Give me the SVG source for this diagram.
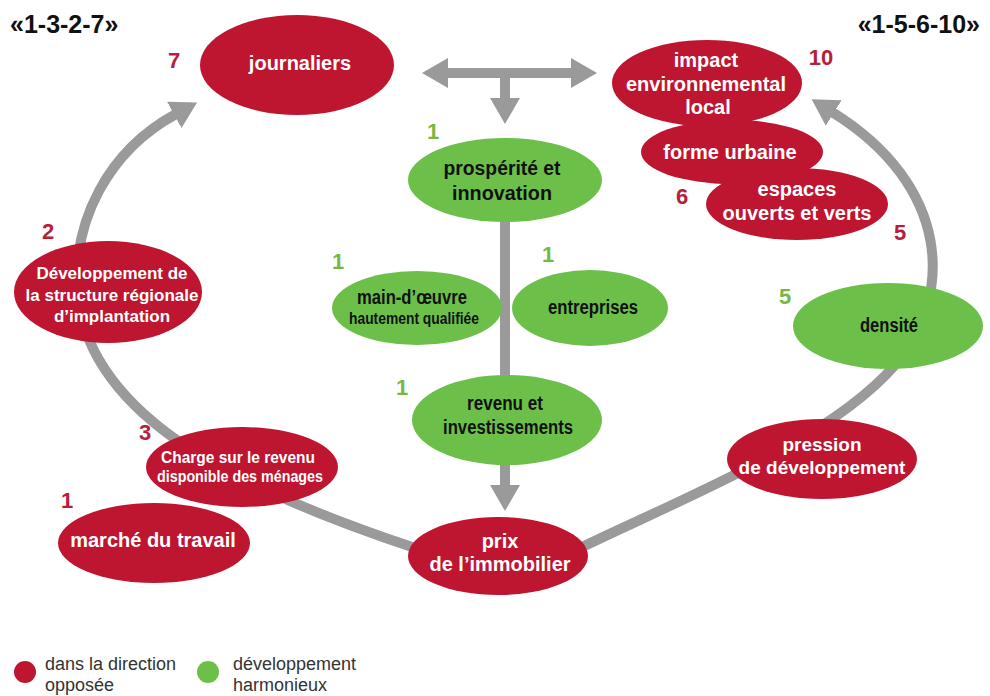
<svg xmlns="http://www.w3.org/2000/svg" width="990" height="696" viewBox="0 0 990 696">
<style>
.red{fill:#be1530}
.grn{fill:#6cc04a}
.wt{fill:#fff;font-family:"Liberation Sans",Arial,sans-serif;font-weight:bold;text-anchor:middle}
.bk{fill:#111;font-family:"Liberation Sans",Arial,sans-serif;font-weight:bold;text-anchor:middle}
.nr{fill:#b5203a;font-family:"Liberation Sans",Arial,sans-serif;font-weight:bold;font-size:22px;text-anchor:middle}
.ng{fill:#76b843;font-family:"Liberation Sans",Arial,sans-serif;font-weight:bold;font-size:22px;text-anchor:middle}
.ttl{fill:#111;font-family:"Liberation Sans",Arial,sans-serif;font-weight:bold;font-size:25px}
.lg{fill:#333;font-family:"Liberation Sans",Arial,sans-serif;font-size:18px}
.con{fill:none;stroke:#9a9a9a;stroke-width:10}
</style>
<defs>
<marker id="ah" markerUnits="userSpaceOnUse" viewBox="0 0 26 30" markerWidth="26" markerHeight="30" refX="2" refY="15" orient="auto-start-reverse">
<path d="M0,0 L26,15 L0,30 z" fill="#9a9a9a"/>
</marker>
</defs>
<text class="ttl" x="10" y="33">«1-3-2-7»</text>
<text class="ttl" x="980" y="33" text-anchor="end">«1-5-6-10»</text>
<g id="connectors">
<path class="con" d="M415 548 C240 490 95 420 78 300 C70 220 110 150 176 114" marker-end="url(#ah)"/>
<path class="con" d="M580 548 C690 495 830 440 895 365 C955 295 950 185 832 112" marker-end="url(#ah)"/>
<path class="con" d="M446 73 L573 73" marker-start="url(#ah)" marker-end="url(#ah)"/>
<path class="con" d="M505 73 L505 100" marker-end="url(#ah)"/>
<path class="con" d="M505 215 L505 385"/>
<path class="con" d="M505 460 L505 487" marker-end="url(#ah)"/>
</g>
<g id="journaliers">
<ellipse class="red" cx="297" cy="65" rx="97" ry="50"/>
<text class="wt" x="300" y="70" font-size="20">journaliers</text>
<text class="nr" x="174" y="68">7</text>
</g>
<g id="impact">
<ellipse class="red" cx="707" cy="83" rx="95" ry="43"/>
<text class="wt" x="706" y="67" font-size="20">impact</text>
<text class="wt" x="706" y="91" font-size="20">environnemental</text>
<text class="wt" x="708" y="114" font-size="20">local</text>
<text class="nr" x="821" y="65">10</text>
</g>
<g id="forme">
<ellipse class="red" cx="732" cy="152" rx="91" ry="32"/>
<text class="wt" x="730" y="159" font-size="20">forme urbaine</text>
</g>
<g id="espaces">
<ellipse class="red" cx="797" cy="204" rx="91" ry="36"/>
<text class="wt" x="797" y="196" font-size="20">espaces</text>
<text class="wt" x="797" y="220" font-size="20">ouverts et verts</text>
<text class="nr" x="682" y="204">6</text>
</g>
<g id="prosperite">
<ellipse class="grn" cx="505" cy="180" rx="97" ry="42"/>
<text class="bk" x="502" y="175" font-size="20" textLength="117" lengthAdjust="spacingAndGlyphs">prospérité et</text>
<text class="bk" x="502" y="200" font-size="20" textLength="100" lengthAdjust="spacingAndGlyphs">innovation</text>
<text class="ng" x="433" y="139">1</text>
</g>
<g id="maindoeuvre">
<ellipse class="grn" cx="417" cy="308" rx="85" ry="37"/>
<text class="bk" x="412" y="304" font-size="20" textLength="110" lengthAdjust="spacingAndGlyphs">main-d’œuvre</text>
<text class="bk" x="414" y="324" font-size="17" textLength="130" lengthAdjust="spacingAndGlyphs">hautement qualifiée</text>
<text class="ng" x="338" y="269">1</text>
</g>
<g id="entreprises">
<ellipse class="grn" cx="590" cy="308" rx="78" ry="38"/>
<text class="bk" x="593" y="314" font-size="20" textLength="90" lengthAdjust="spacingAndGlyphs">entreprises</text>
<text class="ng" x="548" y="262">1</text>
</g>
<g id="revenu">
<ellipse class="grn" cx="507" cy="420" rx="95" ry="45"/>
<text class="bk" x="505" y="410" font-size="20" textLength="76" lengthAdjust="spacingAndGlyphs">revenu et</text>
<text class="bk" x="508" y="434" font-size="20" textLength="130" lengthAdjust="spacingAndGlyphs">investissements</text>
<text class="ng" x="402" y="395">1</text>
</g>
<g id="densite">
<ellipse class="grn" cx="888" cy="326" rx="95" ry="43"/>
<text class="bk" x="889" y="332" font-size="20" textLength="58" lengthAdjust="spacingAndGlyphs">densité</text>
<text class="ng" x="785" y="304">5</text>
<text class="nr" x="900" y="240">5</text>
</g>
<g id="developpement">
<ellipse class="red" cx="108" cy="292" rx="94" ry="51"/>
<text class="wt" x="112" y="279" font-size="17">Développement de</text>
<text class="wt" x="112" y="301" font-size="17">la structure régionale</text>
<text class="wt" x="112" y="322" font-size="17">d’implantation</text>
<text class="nr" x="48" y="239">2</text>
</g>
<g id="charge">
<ellipse class="red" cx="242" cy="467" rx="96" ry="40"/>
<text class="wt" x="238" y="463" font-size="16" textLength="154" lengthAdjust="spacingAndGlyphs">Charge sur le revenu</text>
<text class="wt" x="240" y="482" font-size="16" textLength="166" lengthAdjust="spacingAndGlyphs">disponible des ménages</text>
<text class="nr" x="145" y="440">3</text>
</g>
<g id="marche">
<ellipse class="red" cx="154" cy="543" rx="96" ry="40"/>
<text class="wt" x="153" y="547" font-size="20">marché du travail</text>
<text class="nr" x="67" y="508">1</text>
</g>
<g id="prix">
<ellipse class="red" cx="498" cy="556" rx="90" ry="39"/>
<text class="wt" x="500" y="548" font-size="20">prix</text>
<text class="wt" x="500" y="571" font-size="20">de l’immobilier</text>
</g>
<g id="pression">
<ellipse class="red" cx="822" cy="459" rx="95" ry="40"/>
<text class="wt" x="822" y="451" font-size="19">pression</text>
<text class="wt" x="822" y="474" font-size="19">de développement</text>
</g>
<g id="legend">
<circle cx="25" cy="672" r="11" class="red"/>
<text class="lg" x="45" y="670">dans la direction</text>
<text class="lg" x="45" y="691">opposée</text>
<circle cx="208" cy="672" r="11" class="grn"/>
<text class="lg" x="233" y="670">développement</text>
<text class="lg" x="233" y="691">harmonieux</text>
</g>
</svg>
